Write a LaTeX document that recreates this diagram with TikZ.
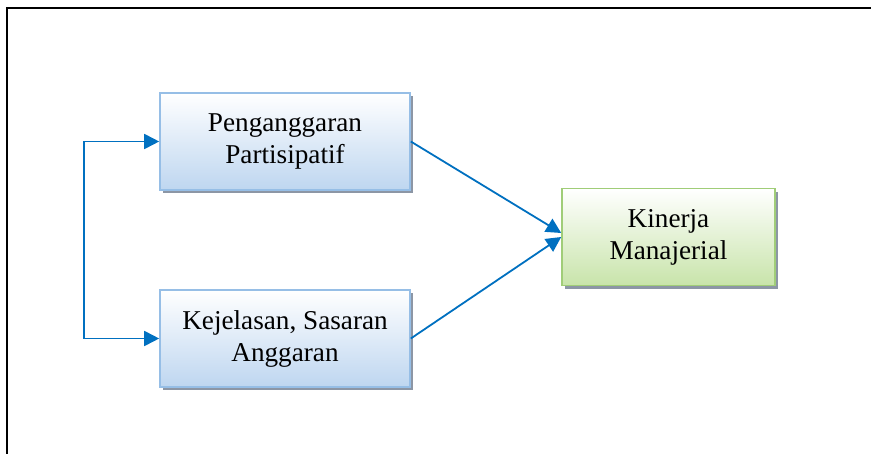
\documentclass[tikz,border=0pt]{standalone}
\usepackage{fontspec}
\setmainfont{Liberation Serif}
\usepackage{tikz}
\usetikzlibrary{arrows.meta,shadows,positioning}
\definecolor{wordblue}{RGB}{0,112,192}
\definecolor{blueline}{RGB}{150,190,230}
\definecolor{bluefill}{RGB}{190,214,240}
\definecolor{greenline}{RGB}{160,205,120}
\definecolor{greenfill}{RGB}{200,228,170}
\definecolor{shadowgray}{RGB}{140,150,165}
\tikzset{
	varbox/.style={
		draw=blueline, thick, rectangle, minimum width=125pt,
		minimum height=48.5pt, inner sep=0pt, align=center,
		font=\fontsize{13.6}{16}\selectfont, text=black,
		top color=white, bottom color=bluefill,
		drop shadow={shadow xshift=1.6pt, shadow yshift=-1.6pt,
			fill=shadowgray, opacity=1}
	},
	outbox/.style={
		varbox, minimum width=106.5pt, draw=greenline,
		top color=white, bottom color=greenfill
	},
	flow/.style={-{Triangle[length=7.5pt,width=7.5pt]}, wordblue, line width=0.9pt}
}

\begin{document}
\begin{tikzpicture}[x=0.5pt,y=-0.5pt]
				\useasboundingbox (0,0) rectangle (871,454);
				\draw[black, thick] (7,454) -- (7,8) -- (871,8);
				\node[varbox] (budget) at (285,141.5) {Penganggaran\\Partisipatif};
				\node[varbox] (target) at (285,338.5) {Kejelasan, Sasaran\\Anggaran};
				\node[outbox] (perform) at (668.5,237) {Kinerja\\Manajerial};
				\draw[flow, {Triangle[length=7.5pt,width=7.5pt]}-{Triangle[length=7.5pt,width=7.5pt]}]
					(budget.west) -- ++(-75,0) |- (target.west);
				\draw[flow] (budget.east) -- ([yshift=2pt]perform.west);
				\draw[flow] (target.east) -- (perform.west);
			\end{tikzpicture}
\end{document}
